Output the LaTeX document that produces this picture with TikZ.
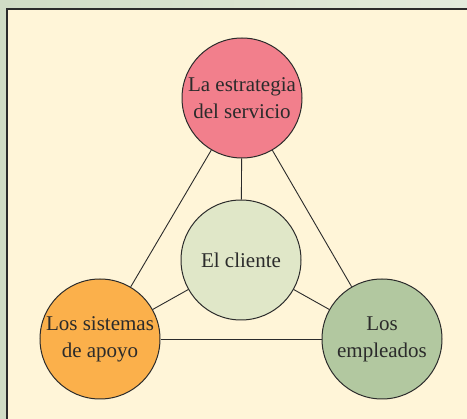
\documentclass[tikz,border=0pt]{standalone}
\usepackage{fontspec}
\setmainfont{Liberation Serif}
\usetikzlibrary{positioning}

\definecolor{outerL}{HTML}{D0DCC5}
\definecolor{outerR}{HTML}{E3EBDC}
\definecolor{panel}{HTML}{FFF5D8}
\definecolor{pinkfill}{HTML}{F27F8C}
\definecolor{orangefill}{HTML}{FBB04B}
\definecolor{greenfill}{HTML}{B2C8A0}
\definecolor{clientfill}{HTML}{E0E7C8}
\definecolor{inkline}{HTML}{2B2B2B}

\begin{document}
\begin{tikzpicture}[
    x=1pt,
    y=-1pt,
    every node/.style={font=\fontsize{21}{27}\selectfont, text=inkline},
    ball/.style={
        circle,
        draw=inkline,
        line width=1pt,
        minimum size=120pt,
        inner sep=0pt,
        align=center
    },
    link/.style={
        draw=inkline,
        line width=0.9pt
    }
]

% ============================================
% Background and panel
% ============================================
\useasboundingbox (0,0) rectangle (467,419);
\shade[left color=outerL, right color=outerR] (0,0) rectangle (467,419);
\fill[panel] (7,9) rectangle (467,419);
\draw[inkline, line width=1.2pt] (7,419) -- (7,9) -- (467,9);

% ============================================
% Nodes
% ============================================
\node[ball, fill=pinkfill] (estrategia) at (242,98) {La estrategia\\del servicio};
\node[ball, fill=clientfill] (cliente) at (241,260) {El cliente};
\node[ball, fill=orangefill] (sistemas) at (100,339) {Los sistemas\\de apoyo};
\node[ball, fill=greenfill] (empleados) at (382,339) {Los\\empleados};

% ============================================
% Links
% ============================================
\path[link] (estrategia) -- (cliente);
\path[link] (estrategia) -- (sistemas);
\path[link] (estrategia) -- (empleados);
\path[link] (sistemas) -- (empleados);
\path[link] (cliente) -- (sistemas);
\path[link] (cliente) -- (empleados);

\end{tikzpicture}
\end{document}
